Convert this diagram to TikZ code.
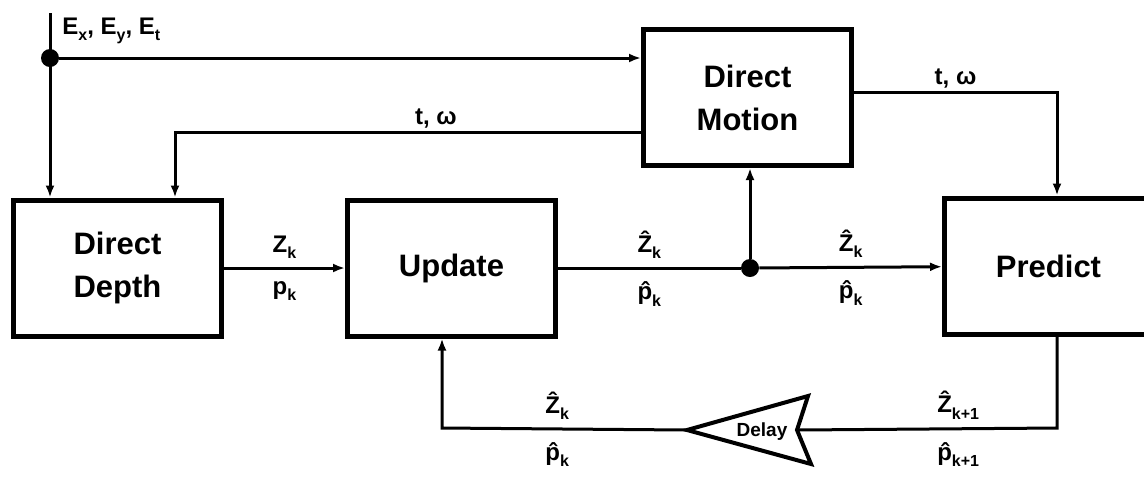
\documentclass[tikz,border=0pt]{standalone}
\usepackage{fontspec}
\setmainfont{Liberation Sans}
\usetikzlibrary{arrows.meta,positioning,calc}
\newcommand{\subk}[1]{\raisebox{-0.5ex}{\fontsize{8}{8}\selectfont #1}}
\newcommand{\hatof}[1]{\^{#1}}
\tikzset{
  block/.style={draw=black, line width=2.5pt, minimum width=104pt, minimum height=68pt, align=center, font=\fontsize{15.5}{21.5}\selectfont\bfseries},
  wire/.style={line width=1.5pt},
  arrow/.style={-{Latex[length=6pt,width=4.5pt]}, line width=1.5pt},
  junction/.style={circle, fill=black, inner sep=0pt, minimum size=9pt},
  lbl/.style={font=\fontsize{12}{14}\selectfont\bfseries, inner sep=1pt},
  delaybox/.style={line width=2pt, line join=miter}
}

\begin{document}
\begin{tikzpicture}[x=0.5pt, y=-0.5pt]
  \clip (0,0) rectangle (1144,479);
  % blocks
  \node[block] (depth) at (117.5,268) {Direct\\Depth};
  \node[block] (update) at (451.5,268) {Update};
  \node[block] (motion) at (747.5,97.5) {Direct\\Motion};
  \node[block] (predict) at (1048.5,266) {Predict};
  % free ends and bends
  \coordinate (ein) at (50,13);
  \node[junction] (jin) at (50,58) {};
  \node[junction] (jmid) at (750,268) {};
  \coordinate (twl) at (175,132);
  \coordinate (twr) at (1057,92);
  \coordinate (fbr) at (1057,428);
  \coordinate (fbl) at (442,428);
  % delay
  \coordinate (dtip) at (687,430);
  \coordinate (dnotch) at (797,430);
  \draw[delaybox] (dtip) -- (808,396) -- (dnotch) -- (811,464) -- cycle;
  \node[font=\fontsize{9.5}{10}\selectfont\bfseries, inner sep=0pt] (delay) at (762,432) {Delay};
  % inputs
  \node[lbl, anchor=west] (elbl) at (60,31) {E\subk{x}, E\subk{y}, E\subk{t}};
  \draw[arrow] (ein) -- (ein |- depth.north);
  \draw[arrow] (jin) -- (jin -| motion.west);
  \draw[arrow] (twl -| motion.west) -- node[lbl, above, pos=0.44] {t, ω} (twl) -- (twl |- depth.north);
  \draw[arrow] (twr -| motion.east) -- node[lbl, above] {t, ω} (twr) -- (twr |- predict.north);
  % main path
  \draw[arrow] (depth) -- node[lbl, above=3pt] {Z\subk{k}} node[lbl, below=5pt] {p\subk{k}} (update);
  \draw[wire] (update) -- node[lbl, above=3pt] {\hatof{Z}\subk{k}} node[lbl, below=5pt] {\hatof{p}\subk{k}} (jmid);
  \draw[arrow] (jmid) -- node[lbl, above=3pt] {\hatof{Z}\subk{k}} node[lbl, below=5pt] {\hatof{p}\subk{k}} (predict);
  \draw[arrow] (jmid) -- (jmid |- motion.south);
  % feedback through delay
  \draw[wire] (fbr |- predict.south) -- (fbr) -- node[lbl, above=3pt, pos=0.38] {\hatof{Z}\subk{k+1}} node[lbl, below=5pt, pos=0.38] {\hatof{p}\subk{k+1}} (dnotch);
  \draw[arrow] (dtip) -- node[lbl, above=3pt, pos=0.53] {\hatof{Z}\subk{k}} node[lbl, below=5pt, pos=0.53] {\hatof{p}\subk{k}} (fbl) -- (fbl |- update.south);
\end{tikzpicture}
\end{document}
